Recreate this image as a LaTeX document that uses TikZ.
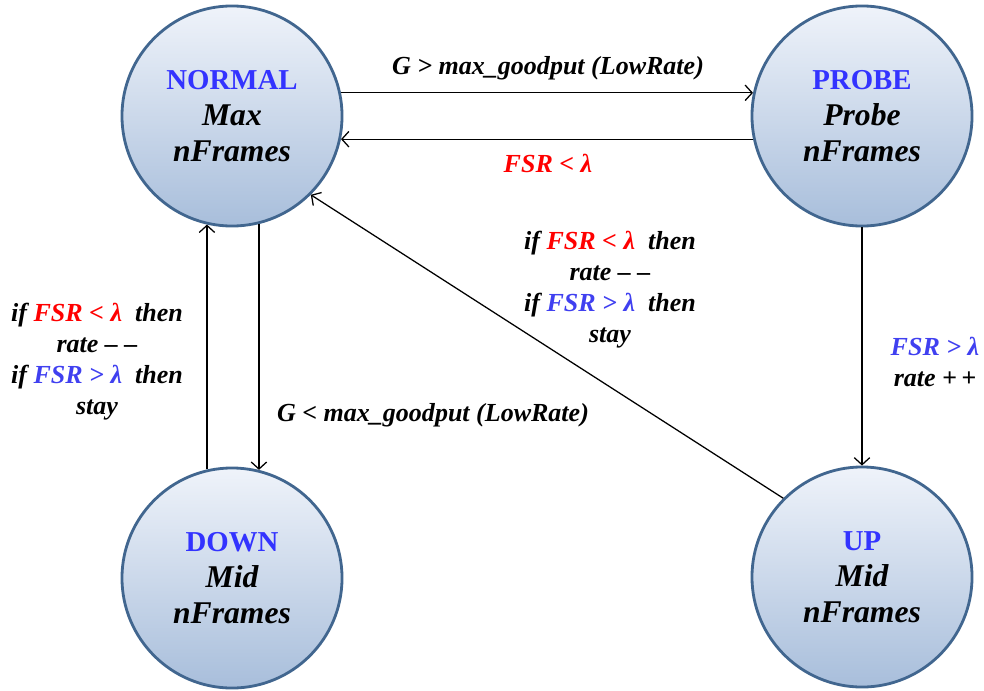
\documentclass[tikz,border=0pt]{standalone}
\usepackage{fontspec}
\setmainfont{Liberation Serif}
\usetikzlibrary{arrows.meta}
\definecolor{titleblue}{HTML}{3333FF}
\definecolor{condred}{HTML}{FF0000}
\definecolor{condblue}{HTML}{4040F0}
\definecolor{stateborder}{HTML}{41668F}
\definecolor{statetop}{HTML}{EFF3FA}
\definecolor{statebottom}{HTML}{A8BEDB}
\tikzset{
	state/.style={circle, draw=stateborder, line width=2pt, minimum size=5.5cm, inner sep=0pt,
		top color=statetop, bottom color=statebottom, align=center,
		font=\fontsize{22.5}{25.5}\selectfont\bfseries\itshape},
	cond/.style={align=center, font=\fontsize{18.5}{22}\selectfont\bfseries\itshape},
	trans/.style={line width=0.9pt, ->, >={Straight Barb[length=5pt,width=11pt]}}
}
\newcommand{\lt}{\textcolor{condred}{FSR < λ}}
\newcommand{\gt}{\textcolor{condblue}{FSR > λ}}
\newcommand{\stitle}[1]{\textcolor{titleblue}{\fontsize{20.5}{25.5}\selectfont\upshape #1}}

\begin{document}
\begin{tikzpicture}[x=0.025cm,y=-0.025cm]
		\useasboundingbox (0,0) rectangle (984,690);

		% States
		\node[state] (normal) at (232,116) {\stitle{NORMAL}\\Max\\nFrames};
		\node[state] (probe) at (862,116) {\stitle{PROBE}\\Probe\\nFrames};
		\node[state] (down) at (232,578) {\stitle{DOWN}\\Mid\\nFrames};
		\node[state] (up) at (862,577) {\stitle{UP}\\Mid\\nFrames};

		% -----------------------------------------------------
		\draw[trans] (normal.12) -- (probe.168);
		\node[cond] (gtgood) at (548,68) {G > max\_goodput (LowRate)};

		\draw[trans] (probe.-168) -- (normal.-12);
		\node[cond] (backnormal) at (548,163) {\lt};

		\draw[trans] (normal.-76.5) -- (down.76.5);
		\node[cond] (ltgood) at (433,415) {G < max\_goodput (LowRate)};

		\draw[trans] (down.103) -- (normal.-103);
		\node[cond] (downcond) at (97,362) {if \lt{}~ then\\rate – –\\if \gt{}~ then\\stay};

		% -----------------------------------------------------
		\draw[trans] (probe.south) -- (up.north);
		\node[cond] (upcond) at (935,362) {\gt\\rate +\,+};

		\draw[trans] (up.135) -- (normal.-45);
		\node[cond] (midcond) at (610,290) {if \lt{}~ then\\rate – –\\if \gt{}~ then\\stay};

\end{tikzpicture}
\end{document}
